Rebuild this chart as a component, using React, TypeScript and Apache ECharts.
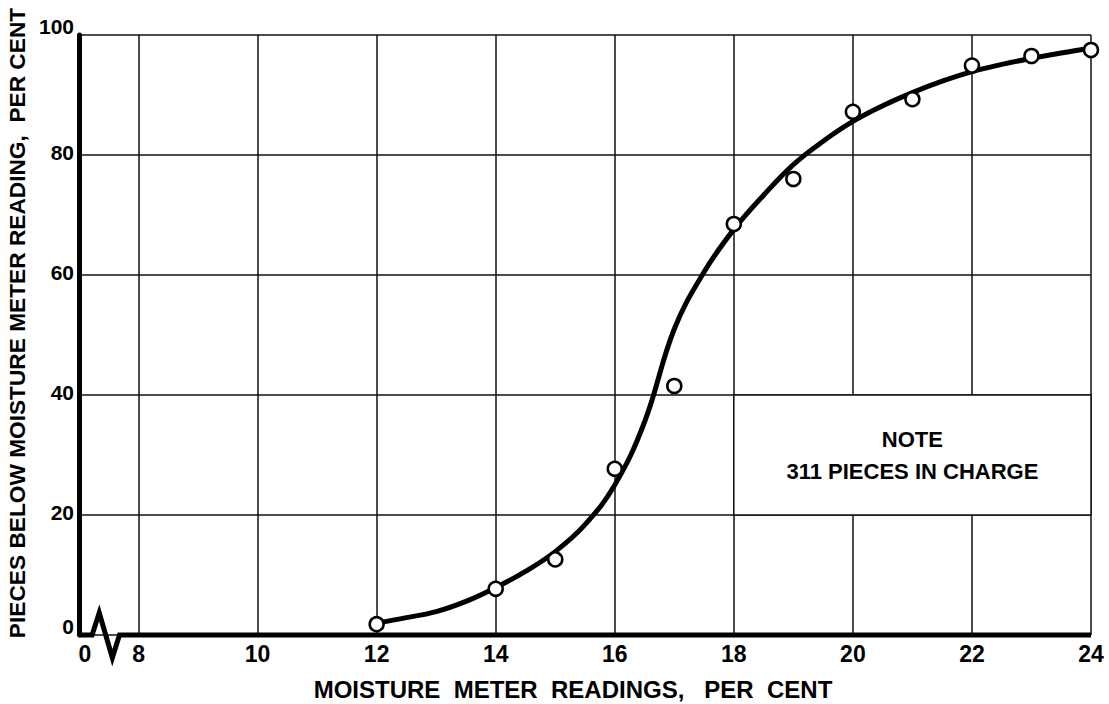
import React, { useEffect, useRef } from "react";
import * as echarts from "echarts";

// Observed points (moisture meter reading, % pieces below)
const meterReadings = [12, 14, 15, 16, 17, 18, 19, 20, 21, 22, 23, 24];
const piecesBelow = [1.8, 7.7, 12.6, 27.7, 41.5, 68.5, 76, 87.2, 89.3, 94.9, 96.5, 97.5];

// Smooth fitted curve (every half unit)
const curveX = [12, 12.5, 13, 13.5, 14, 14.5, 15, 15.5, 16, 16.5, 17, 17.5, 18, 18.5, 19, 19.5, 20, 20.5, 21, 21.5, 22, 22.5, 23, 23.5, 24];
const curveY = [2.0, 2.9, 3.9, 5.6, 7.9, 10.6, 13.9, 18.4, 25, 35.5, 51, 60.5, 67.6, 73.3, 78.4, 82.3, 85.6, 88.2, 90.4, 92.3, 93.9, 95.1, 96.1, 97.0, 97.8];

// Broken x-axis baseline (zigzag near origin)
const baseX = [7, 7.22, 7.34, 7.56, 7.68, 24];
const baseY = [0, 0, 3.7, -3.8, 0, 0];

const xMin = 7;
const xMax = 24;
const yTicks = [0, 20, 40, 60, 80, 100];

const noteBox = { x0: 18, x1: 24, y0: 20, y1: 40 };
const noteTitle = "NOTE";
const noteText = "311 PIECES IN CHARGE";

const xTitle = "MOISTURE  METER  READINGS,   PER  CENT";
const yTitle = "PIECES BELOW MOISTURE METER READING,  PER CENT";

const FONT = "Liberation Sans";

export default function App() {
  const ref = useRef<HTMLDivElement>(null);
  useEffect(() => {
    if (!ref.current) return;
    const chart = echarts.init(ref.current, undefined, { renderer: "svg" });
    chart.setOption({
      animation: false,
      backgroundColor: "#fff",
      grid: { left: 79, right: 18, top: 35, bottom: 69, containLabel: false, outerBoundsMode: "none" },
      xAxis: {
        type: "value",
        min: xMin,
        max: xMax,
        interval: 1,
        axisLine: { show: false },
        axisTick: { show: false },
        splitLine: {
          show: true,
          lineStyle: { color: ["rgba(0,0,0,0)", "#111"], width: 1.5 },
        },
        axisLabel: {
          margin: 7,
          color: "#000",
          fontFamily: FONT,
          fontWeight: "bold",
          fontSize: 23,
          formatter: (v: number) => {
            if (v === xMin) return "{z|0}";
            return v % 2 === 0 ? String(v) : "";
          },
          rich: {
            z: { fontFamily: FONT, fontWeight: "bold", fontSize: 23, color: "#000", padding: [0, 0, 0, 12] },
          },
        },
        name: xTitle,
        nameLocation: "middle",
        nameGap: 42,
        nameTextStyle: {
          color: "#000",
          fontFamily: FONT,
          fontWeight: "bold",
          fontSize: 24,
          padding: [0, 24, 0, 0],
        },
      },
      yAxis: {
        type: "value",
        min: 0,
        max: 100,
        interval: 20,
        axisLine: { show: true, lineStyle: { color: "#000", width: 5 } },
        axisTick: { show: false },
        splitLine: { show: true, lineStyle: { color: "#111", width: 1.5 } },
        axisLabel: {
          margin: 5,
          color: "#000",
          fontFamily: FONT,
          fontWeight: "bold",
          fontSize: 21,
          formatter: (v: number) =>
            yTicks.indexOf(v) < 0 ? "" : v === 0 || v === 100 ? `{u|${v}}` : `{n|${v}}`,
          rich: {
            u: { fontFamily: FONT, fontWeight: "bold", fontSize: 21, color: "#000", padding: [0, 0, 18, 0] },
            n: { fontFamily: FONT, fontWeight: "bold", fontSize: 21, color: "#000", padding: [0, 0, 6, 0] },
          },
        },
        name: yTitle,
        nameLocation: "middle",
        nameGap: 49,
        nameTextStyle: {
          color: "#000",
          fontFamily: FONT,
          fontWeight: "bold",
          fontSize: 22.7,
          padding: [0, 0, 0, 24],
        },
      },
      series: [
        {
          type: "line",
          name: "baseline",
          data: baseX.map((x, i) => [x, baseY[i]]),
          showSymbol: false,
          symbol: "none",
          clip: false,
          lineStyle: { color: "#000", width: 5, join: "miter" },
          z: 4,
          silent: true,
          markArea: {
            silent: true,
            itemStyle: { color: "#fff", opacity: 1, borderColor: "#111", borderWidth: 1.5 },
            label: {
              show: true,
              position: "inside",
              formatter: `{t|${noteTitle}}\n{b|${noteText}}`,
              rich: {
                t: { fontFamily: FONT, fontWeight: "bold", fontSize: 22, color: "#000", lineHeight: 32, align: "center" },
                b: { fontFamily: FONT, fontWeight: "bold", fontSize: 22, color: "#000", lineHeight: 32, align: "center" },
              },
            },
            data: [[{ coord: [noteBox.x0, noteBox.y1] }, { coord: [noteBox.x1, noteBox.y0] }]],
          },
        },
        {
          type: "line",
          name: "curve",
          data: curveX.map((x, i) => [x, curveY[i]]),
          smooth: 0.4,
          showSymbol: false,
          symbol: "none",
          lineStyle: { color: "#000", width: 5 },
          z: 5,
          silent: true,
        },
        {
          type: "scatter",
          name: "observed",
          data: meterReadings.map((x, i) => [x, piecesBelow[i]]),
          symbol: "circle",
          symbolSize: 14,
          clip: false,
          itemStyle: { color: "#fff", opacity: 1, borderColor: "#000", borderWidth: 2.5 },
          z: 6,
          silent: true,
        },
      ],
    });
    return () => chart.dispose();
  }, []);
  return (
    <div
      ref={ref}
      style={{ position: "absolute", left: 0, top: 0, width: 1109, height: 704, background: "#fff" }}
    />
  );
}
